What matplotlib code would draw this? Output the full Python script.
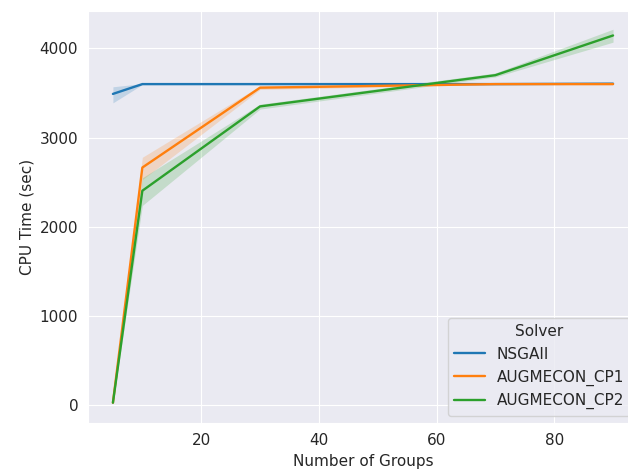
import matplotlib
matplotlib.use("Agg")
import matplotlib.pyplot as plt
import seaborn as sns

sns.set_style("darkgrid")
plt.rcParams["font.size"] = 11

groups = [5, 10, 30, 70, 90]
solvers = ["NSGAII", "AUGMECON_CP1", "AUGMECON_CP2"]

nsga_mean = [3490, 3600, 3600, 3600, 3605]
nsga_lo = [3390, 3595, 3595, 3595, 3595]
nsga_hi = [3570, 3605, 3605, 3605, 3615]

cp1_mean = [30, 2665, 3560, 3600, 3600]
cp1_lo = [20, 2530, 3540, 3595, 3595]
cp1_hi = [40, 2780, 3580, 3605, 3605]

cp2_mean = [30, 2405, 3350, 3700, 4145]
cp2_lo = [20, 2240, 3320, 3680, 4070]
cp2_hi = [40, 2550, 3375, 3725, 4215]

means = [nsga_mean, cp1_mean, cp2_mean]
lows = [nsga_lo, cp1_lo, cp2_lo]
highs = [nsga_hi, cp1_hi, cp2_hi]
colors = sns.color_palette("tab10")[:3]

fig = plt.figure(figsize=(6.28, 4.75), dpi=100)
ax = fig.add_axes([0.14, 0.109, 0.876, 0.868])

for name, m, lo, hi, c in zip(solvers, means, lows, highs, colors):
    ax.plot(groups, m, color=c, label=name, lw=1.7)
    ax.fill_between(groups, lo, hi, color=c, alpha=0.2, lw=0)

ax.set_xlabel("Number of Groups", fontsize=11)
ax.set_ylabel("CPU Time (sec)", fontsize=11)
ax.set_xticks([20, 40, 60, 80])
ax.set_yticks([0, 1000, 2000, 3000, 4000])
ax.tick_params(labelsize=11)
ax.set_xlim(0.75, 94.25)
ax.set_ylim(-200, 4420)
ax.legend(title="Solver", loc="lower right", fontsize=11, title_fontsize=11)

fig.savefig("out.png", dpi=100)
